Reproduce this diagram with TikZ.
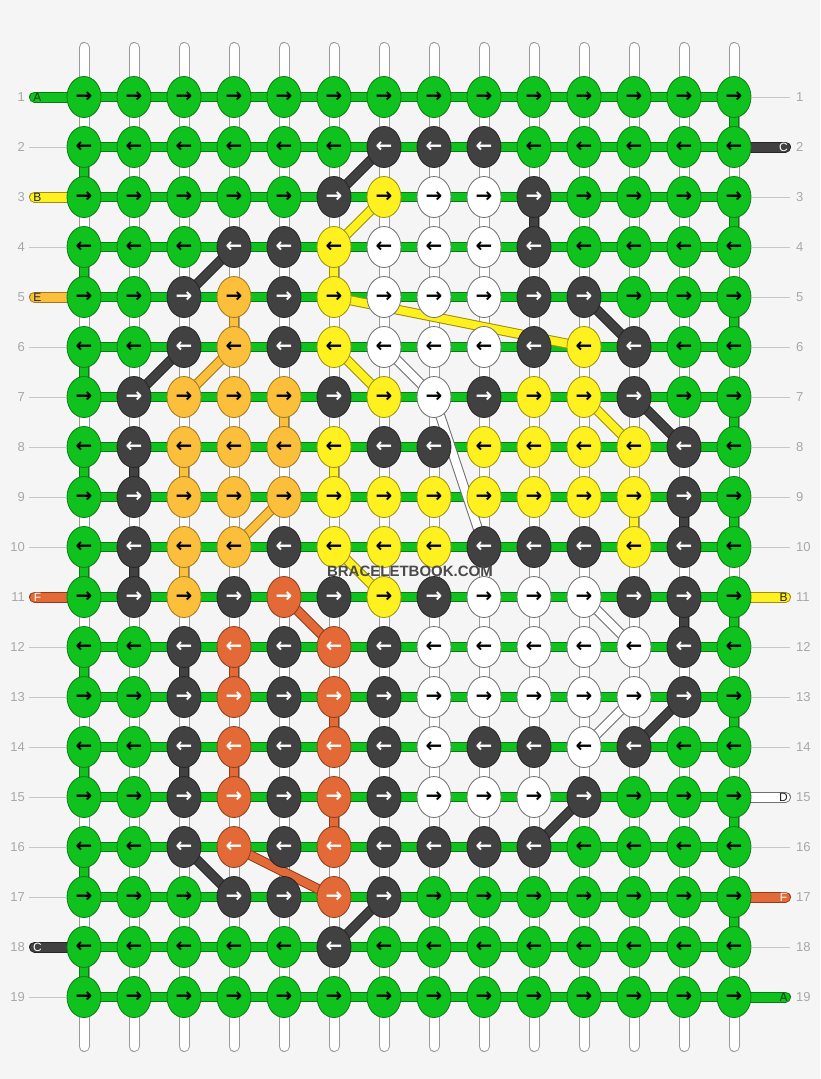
\documentclass[tikz,border=0pt]{standalone}
\usepackage{fontspec}
\setmainfont{Liberation Sans}
\newfontfamily\arrowfont{DejaVu Sans}
\usetikzlibrary{shapes.geometric}
\pgfdeclarelayer{back}
\pgfdeclarelayer{mid}
\pgfsetlayers{back,mid,main}
\definecolor{bg}{HTML}{F5F5F5}
\definecolor{cG}{HTML}{10C21E}
\definecolor{cK}{HTML}{414141}
\definecolor{cY}{HTML}{FFF020}
\definecolor{cO}{HTML}{FBBF3C}
\definecolor{cR}{HTML}{E36937}
\definecolor{cW}{HTML}{FFFFFF}
\definecolor{oG}{HTML}{0B7A14}
\definecolor{oK}{HTML}{262626}
\definecolor{oY}{HTML}{9A9010}
\definecolor{oO}{HTML}{A07820}
\definecolor{oR}{HTML}{8A3E1E}
\definecolor{oW}{HTML}{707070}
\definecolor{aG}{HTML}{000000}
\definecolor{aK}{HTML}{FFFFFF}
\definecolor{aY}{HTML}{000000}
\definecolor{aO}{HTML}{000000}
\definecolor{aR}{HTML}{FFFFFF}
\definecolor{aW}{HTML}{000000}
\definecolor{lG}{HTML}{0A3A0A}
\definecolor{lK}{HTML}{FFFFFF}
\definecolor{lY}{HTML}{222222}
\definecolor{lO}{HTML}{222222}
\definecolor{lR}{HTML}{FFFFFF}
\definecolor{lW}{HTML}{222222}
\definecolor{sgray}{HTML}{9A9A9A}
\definecolor{lgray}{HTML}{C8C8C8}
\definecolor{ngray}{HTML}{A8A8A8}
\definecolor{wmgray}{HTML}{4A4A4A}
\tikzset{
  knot/.style={ellipse, minimum width=34pt, minimum height=41pt, inner sep=0pt,
    line width=0.8pt, fill=c#1, draw=o#1, text=a#1,
    font=\arrowfont\bfseries\fontsize{20}{20}\selectfont},
  seg/.style={draw=o#1, double=c#1, double distance=8pt, line width=1pt},
  warp/.style={draw=sgray, double=white, double distance=9pt, line width=1pt, line cap=round},
  tabline/.style={draw=o#1, double=c#1, double distance=9pt, line width=1pt, line cap=round},
  tablabel/.style={inner sep=0pt, font=\fontsize{12}{12}\selectfont, text=l#1},
  rowline/.style={draw=lgray, line width=0.8pt},
  rownum/.style={inner sep=0pt, text=ngray, font=\fontsize{13}{13}\selectfont},
  wm/.style={inner sep=0pt, text=wmgray, font=\bfseries\fontsize{15}{15}\selectfont}
}
\begin{document}
\begin{tikzpicture}[x=1pt,y=-1pt]
\useasboundingbox (0,0) rectangle (820,1079);
% knots
\foreach \ri/\cols in {
 1/{G,G,G,G,G,G,G,G,G,G,G,G,G,G},
 2/{G,G,G,G,G,G,K,K,K,G,G,G,G,G},
 3/{G,G,G,G,G,K,Y,W,W,K,G,G,G,G},
 4/{G,G,G,K,K,Y,W,W,W,K,G,G,G,G},
 5/{G,G,K,O,K,Y,W,W,W,K,K,G,G,G},
 6/{G,G,K,O,K,Y,W,W,W,K,Y,K,G,G},
 7/{G,K,O,O,O,K,Y,W,K,Y,Y,K,G,G},
 8/{G,K,O,O,O,Y,K,K,Y,Y,Y,Y,K,G},
 9/{G,K,O,O,O,Y,Y,Y,Y,Y,Y,Y,K,G},
 10/{G,K,O,O,K,Y,Y,Y,K,K,K,Y,K,G},
 11/{G,K,O,K,R,K,Y,K,W,W,W,K,K,G},
 12/{G,G,K,R,K,R,K,W,W,W,W,W,K,G},
 13/{G,G,K,R,K,R,K,W,W,W,W,W,K,G},
 14/{G,G,K,R,K,R,K,W,K,K,W,K,G,G},
 15/{G,G,K,R,K,R,K,W,W,W,K,G,G,G},
 16/{G,G,K,R,K,R,K,K,K,K,G,G,G,G},
 17/{G,G,G,K,K,R,K,G,G,G,G,G,G,G},
 18/{G,G,G,G,G,K,G,G,G,G,G,G,G,G},
 19/{G,G,G,G,G,G,G,G,G,G,G,G,G,G}}{
  \foreach \kc [count=\ci] in \cols {
    \node[knot=\kc] (k-\ri-\ci) at ({84+50*(\ci-1)},{97+50*(\ri-1)}) {\ifodd\ri\relax →\else ←\fi};
  }
}
% background and warp strings
\begin{pgfonlayer}{back}
\fill[bg] (0,0) rectangle (820,1079);
\foreach \ci in {1,...,14}{
  \coordinate (top-\ci) at ({84+50*(\ci-1)},47.5);
  \coordinate (bot-\ci) at ({84+50*(\ci-1)},1046.5);
  \draw[warp] (top-\ci) -- (bot-\ci);
}
\end{pgfonlayer}
\begin{pgfonlayer}{mid}
% horizontal bars
\foreach \ri in {1,...,19} \draw[seg=G] (k-\ri-1.center) -- (k-\ri-14.center);
% vertical coloured segments
\foreach \ri/\ci/\kc in {2/1/G,4/1/G,6/1/G,8/1/G,10/1/G,12/1/G,14/1/G,16/1/G,18/1/G,
  1/14/G,3/14/G,5/14/G,7/14/G,9/14/G,11/14/G,13/14/G,15/14/G,17/14/G,
  3/10/K,4/6/Y,5/4/O,7/5/O,8/2/K,8/3/O,8/6/Y,9/12/Y,9/13/K,10/2/K,10/3/O,
  11/13/K,12/3/K,12/4/R,13/6/R,14/3/K,14/4/R,15/6/R}{
  \pgfmathtruncatemacro\rn{\ri+1}
  \draw[seg=\kc] (k-\ri-\ci.center) -- (k-\rn-\ci.center);
}
% diagonal strands
\foreach \ra/\ca/\rb/\cb/\kc in {2/7/3/6/K,3/7/4/6/Y,4/4/5/3/K,5/6/6/11/Y,5/11/6/12/K,
  6/3/7/2/K,6/4/7/3/O,6/6/7/7/Y,6/7/7/8/W,7/8/10/9/W,7/11/8/12/Y,7/12/8/13/K,
  9/5/10/4/O,10/6/11/7/Y,11/5/12/6/R,11/11/12/12/W,13/12/14/11/W,13/13/14/12/K,
  15/11/16/10/K,16/3/17/4/K,16/4/17/6/R,17/7/18/6/K}{
  \draw[seg=\kc] (k-\ra-\ca.center) -- (k-\rb-\cb.center);
}
\end{pgfonlayer}
% tabs left
\foreach \ri/\lt/\kc in {1/A/G,3/B/Y,5/E/O,11/F/R,18/C/K}{
  \coordinate (tl-\ri) at (34.5,{97+50*(\ri-1)});
  \begin{pgfonlayer}{mid}\draw[tabline=\kc] (tl-\ri) -- (k-\ri-1.center);\end{pgfonlayer}
  \node[tablabel=\kc] (tll-\ri) at (37.5,{97+50*(\ri-1)}) {\lt};
}
% tabs right
\foreach \ri/\lt/\kc in {2/C/K,11/B/Y,15/D/W,17/F/R,19/A/G}{
  \coordinate (tr-\ri) at (785.5,{97+50*(\ri-1)});
  \begin{pgfonlayer}{mid}\draw[tabline=\kc] (k-\ri-14.center) -- (tr-\ri);\end{pgfonlayer}
  \node[tablabel=\kc] (trl-\ri) at (783.5,{97+50*(\ri-1)}) {\lt};
}
% row numbers
\foreach \ri in {1,...,19}{
  \node[rownum, anchor=east] (nl-\ri) at (25,{97+50*(\ri-1)}) {\ri};
  \node[rownum, anchor=west] (nr-\ri) at (796,{97+50*(\ri-1)}) {\ri};
}
\foreach \ri in {2,4,6,7,8,9,10,12,13,14,15,16,17,19}{
  \coordinate (ll-\ri) at (29,{97+50*(\ri-1)});
  \draw[rowline] (ll-\ri) -- (k-\ri-1);
}
\foreach \ri in {1,3,4,5,6,7,8,9,10,12,13,14,16,18}{
  \coordinate (lr-\ri) at (790,{97+50*(\ri-1)});
  \draw[rowline] (k-\ri-14) -- (lr-\ri);
}
\node[wm] (wm) at (410,571) {BRACELETBOOK.COM};
\end{tikzpicture}
\end{document}
